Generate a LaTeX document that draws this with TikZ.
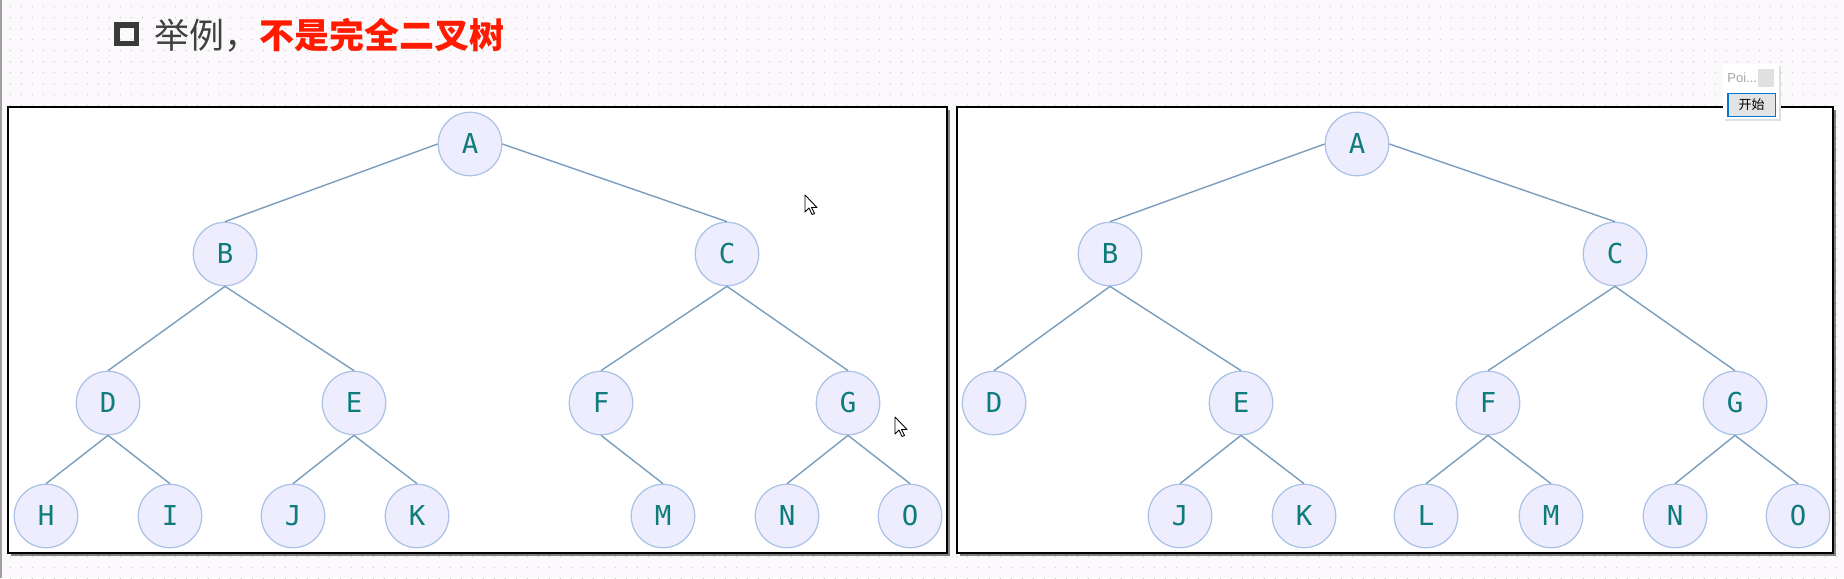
\documentclass[tikz,border=0pt]{standalone}
\usepackage{fontspec}
\newfontfamily\cjk{Noto Sans CJK SC}
\newfontfamily\monofont{DejaVu Sans Mono}
\newfontfamily\uifont{Liberation Sans}
\usetikzlibrary{positioning, patterns.meta}
\definecolor{nodefill}{HTML}{EDEDFD}
\definecolor{nodeline}{HTML}{AAC2E8}
\definecolor{nodetext}{HTML}{0E7C7B}
\definecolor{edgeblue}{HTML}{7A9EBE}
\definecolor{titlegray}{HTML}{404040}
\definecolor{titlered}{HTML}{FF1A00}
\definecolor{paper}{HTML}{FBF9FB}
\definecolor{btnblue}{HTML}{0078D7}
\tikzset{
  vertex/.style={circle, draw=nodeline, fill=nodefill, line width=0.7pt, minimum size=1.27cm,
    inner sep=0pt, text=nodetext, font=\monofont\fontsize{15.6}{18}\selectfont},
  treeedge/.style={draw=edgeblue, line width=0.8pt},
  panel/.style={draw=black, fill=white, line width=1.1pt},
  panelshadow/.style={fill=black!50},
  cursorpic/.pic={
    \draw[fill=white, line width=0.5pt, line join=round] (0,0) -- (0,17) -- (4,13) -- (7,19.5) -- (9.5,18.5) -- (6.5,12.5) -- (12,12.5) -- cycle;
  }
}

\begin{document}
\begin{tikzpicture}[x=0.02cm, y=-0.02cm]
        
        % background with dots
        \fill[paper] (0,0) rectangle (1844,578);
        \fill[pattern={Dots[distance=6.5pt, radius=0.45pt]}, pattern color=gray!35] (0,0) rectangle (1844,578);
        \useasboundingbox (0,0) rectangle (1844,578);
        \draw[gray!75, line width=0.9pt] (1,0) -- (1,578);
        
        % title
        \draw[titlegray!90!black, line width=3pt] (117,25) rectangle (136.5,43.5);
        \node[anchor=west, inner sep=0pt] (title) at (154,35)
          {\cjk\fontsize{19.9}{22}\selectfont\textcolor{titlegray}{举例，}\textcolor{titlered}{\bfseries 不是完全二叉树}};
        
        % the two panels
        \fill[panelshadow] (11,110) rectangle (950,556);
        \fill[panelshadow] (960,110) rectangle (1836,556);
        \draw[panel] (8,107) rectangle (947,553);
        \draw[panel] (957,107) rectangle (1833,553);
        
        % left tree
        \foreach \n/\x/\y in {A/470/144, B/225/254, C/727/254, D/108/403, E/354/403, F/601/403, G/848/403,
                             H/46/516, I/170/516, J/293/516, K/417/516, M/663/516, N/787/516, O/910/516}
		\node[vertex] (\n1) at (\x,\y) {\n};
        
        \draw[treeedge] (A1.west) -- (B1.north);
        \draw[treeedge] (A1.east) -- (C1.north);
		\foreach \from / \to in {B/D,B/E,C/F,C/G,D/H,D/I,E/J,E/K,F/M,G/N,G/O}
		\draw[treeedge] (\from1.south) -- (\to1.north);
        
        % right tree
        \foreach \n/\x/\y in {A/1357/144, B/1110/254, C/1615/254, D/994/403, E/1241/403, F/1488/403, G/1735/403,
                             J/1180/516, K/1304/516, L/1426/516, M/1551/516, N/1675/516, O/1798/516}
		\node[vertex] (\n2) at (\x,\y) {\n};
        
        \draw[treeedge] (A2.west) -- (B2.north);
        \draw[treeedge] (A2.east) -- (C2.north);
		\foreach \from / \to in {B/D,B/E,C/F,C/G,E/J,E/K,F/L,F/M,G/N,G/O}
		\draw[treeedge] (\from2.south) -- (\to2.north);
        
        % small tool window
        \fill[black!12] (1725,66) rectangle (1781,121);
        \fill[white] (1723,64) rectangle (1779,119);
        \fill[black!12] (1758,69) rectangle (1774,87);
        \node[anchor=west, inner sep=0pt, text=black!35, font=\uifont\fontsize{7.4}{9}\selectfont] (poi) at (1727,78) {Poi...};
        \node[draw=btnblue, line width=1.1pt, fill=black!11, inner sep=0pt,
              minimum width=0.96cm, minimum height=0.46cm, font=\cjk\fontsize{7.4}{9}\selectfont] (start) at (1751.5,105) {开始};
        
        % mouse pointers
        \pic at (805,195) {cursorpic};
        \pic at (895,417) {cursorpic};
             
\end{tikzpicture}
\end{document}
